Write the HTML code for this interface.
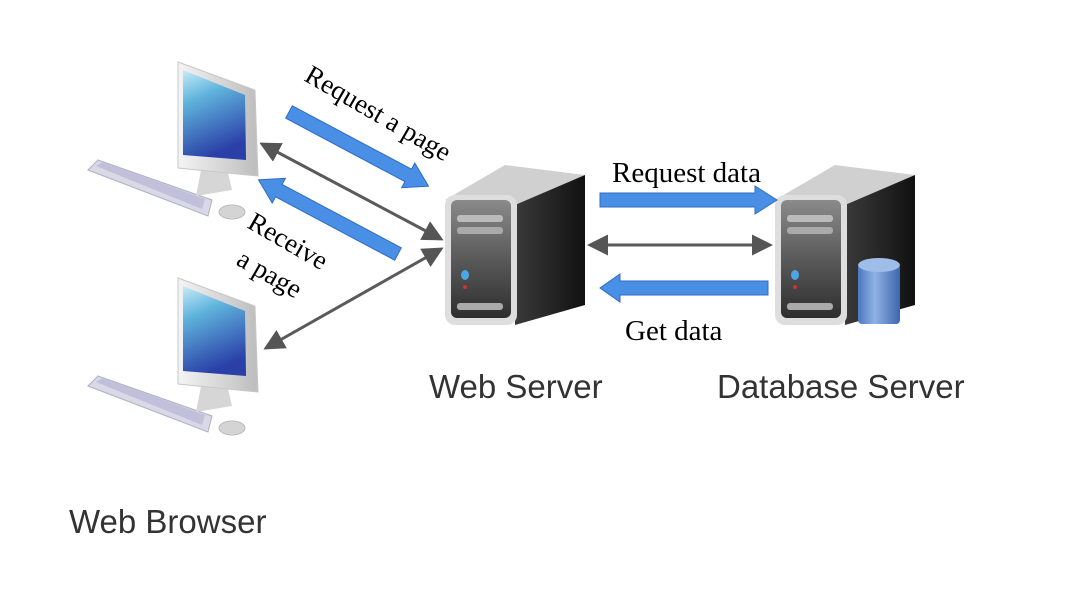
<!DOCTYPE html>
<html><head><style>body{margin:0;background:#fff}svg{display:block}</style></head><body>
<svg width="1086" height="604" viewBox="0 0 1086 604" xmlns="http://www.w3.org/2000/svg">
<defs>
<linearGradient id="scr" x1="0" y1="0" x2="0.3" y2="1"><stop offset="0" stop-color="#c8ecf8"/><stop offset="0.35" stop-color="#5fb3dc"/><stop offset="1" stop-color="#2a3fa8"/></linearGradient>
<linearGradient id="bez" x1="0" y1="0" x2="1" y2="0"><stop offset="0" stop-color="#f4f4f4"/><stop offset="1" stop-color="#bdbdbd"/></linearGradient>
<linearGradient id="front" x1="0" y1="0" x2="0" y2="1"><stop offset="0" stop-color="#8a8a8a"/><stop offset="0.5" stop-color="#5a5a5a"/><stop offset="1" stop-color="#2e2e2e"/></linearGradient>
<linearGradient id="side" x1="0" y1="0" x2="1" y2="0"><stop offset="0" stop-color="#3a3a3a"/><stop offset="1" stop-color="#111"/></linearGradient>
<linearGradient id="cyl" x1="0" y1="0" x2="1" y2="0"><stop offset="0" stop-color="#4c78bf"/><stop offset="0.4" stop-color="#8fb2e4"/><stop offset="1" stop-color="#3d66ad"/></linearGradient>
<g id="pc">
 <polygon points="88,170 98,160 212,200 208,216" fill="#d8d8e6" stroke="#b0b0c4"/>
 <polygon points="96,166 103,162 205,199 202,209" fill="#c0c0da"/>
 <ellipse cx="232" cy="212" rx="13" ry="7" fill="#d4d4d4" stroke="#bbb"/>
 <polygon points="203,160 225,160 232,190 196,196" fill="#d6d6d6"/>
 <polygon points="178,62 255,90 258,176 178,168" fill="url(#bez)" stroke="#c8c8c8"/>
 <polygon points="183,70 245,95 246,160 183,155" fill="url(#scr)"/>
</g>
<g id="srv">
 <polygon points="0,35 60,0 140,10 80,45" fill="#d0d0d0"/>
 <polygon points="70,40 140,10 140,140 70,160" fill="url(#side)"/>
 <rect x="0" y="30" width="72" height="130" rx="10" fill="#dedede"/>
 <rect x="6" y="35" width="60" height="118" rx="6" fill="url(#front)"/>
 <rect x="12" y="50" width="46" height="7" rx="3" fill="#bbb"/>
 <rect x="12" y="62" width="46" height="7" rx="3" fill="#aaa"/>
 <rect x="12" y="138" width="46" height="7" rx="3" fill="#aaa"/>
 <ellipse cx="20" cy="110" rx="4" ry="5" fill="#4aa6e6"/>
 <circle cx="20" cy="122" r="2" fill="#c33"/>
</g>
<marker id="gh" markerWidth="7" markerHeight="7" refX="6" refY="3.5" orient="auto-start-reverse" markerUnits="strokeWidth"><path d="M0,0 L7,3.5 L0,7 z" fill="#555"/></marker>
</defs>
<use href="#pc"/>
<use href="#pc" y="216"/>
<use href="#srv" x="445" y="165"/>
<use href="#srv" x="775" y="165"/>
<rect x="858" y="264" width="42" height="60" fill="url(#cyl)" rx="4"/>
<ellipse cx="879" cy="265" rx="21" ry="7" fill="#9ebde8"/>
<g stroke="#5a5a5a" stroke-width="3" fill="none">
<line x1="262" y1="144" x2="441" y2="239" marker-start="url(#gh)" marker-end="url(#gh)"/>
<line x1="441" y1="249" x2="266" y2="348" marker-start="url(#gh)" marker-end="url(#gh)"/>
<line x1="590" y1="245" x2="770" y2="245" marker-start="url(#gh)" marker-end="url(#gh)"/>
</g>
<g fill="#4a8fe6" stroke="#2f6cc0" stroke-width="1">
<polygon points="0,-7 135,-7 135,-14 158,0 135,14 135,7 0,7" transform="translate(289,112) rotate(28)"/>
<polygon points="0,-7 135,-7 135,-14 158,0 135,14 135,7 0,7" transform="translate(398,254) rotate(208)"/>
<polygon points="0,-7 155,-7 155,-14 177,0 155,14 155,7 0,7" transform="translate(600,200)"/>
<polygon points="0,-7 148,-7 148,-14 168,0 148,14 148,7 0,7" transform="translate(768,288) rotate(180)"/>
</g>
<g font-family="Liberation Serif, serif" font-size="27" fill="#000">
<text transform="translate(303,80) rotate(30)">Request a page</text>
<text transform="translate(246,227) rotate(30)">Receive</text>
<text transform="translate(235,264) rotate(30)">a page</text>
<text x="612" y="182" font-size="29">Request data</text>
<text x="625" y="340" font-size="29">Get data</text>
</g>
<g font-family="Liberation Sans, sans-serif" font-size="33" fill="#333">
<text x="429" y="398">Web Server</text>
<text x="717" y="398">Database Server</text>
<text x="69" y="533">Web Browser</text>
</g>
</svg>
</body></html>
